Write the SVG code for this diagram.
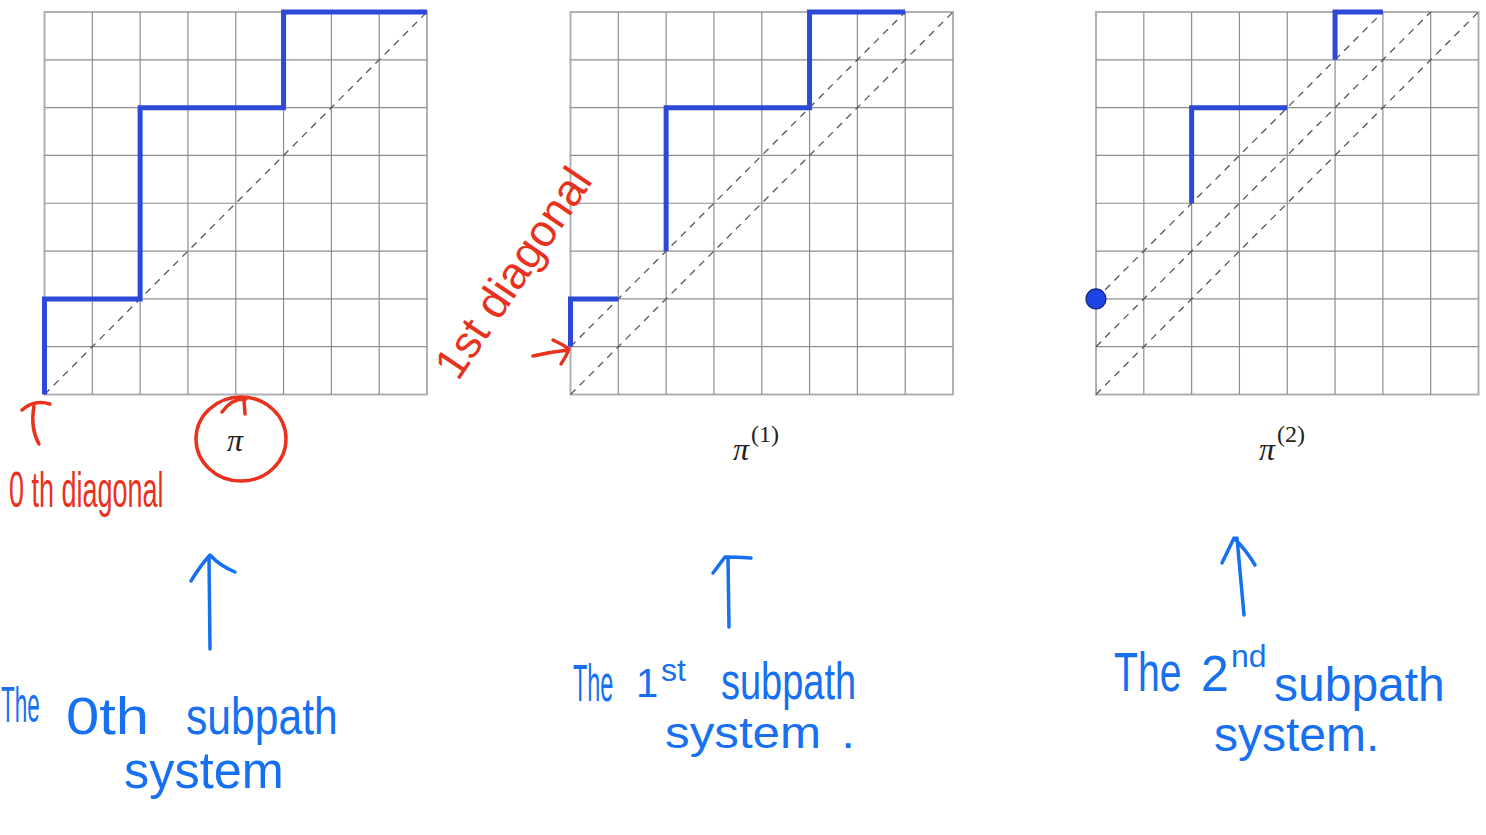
<svg xmlns="http://www.w3.org/2000/svg" xmlns:xlink="http://www.w3.org/1999/xlink" width="1486" height="835" viewBox="0 0 1486 835">
<style>
.gl{stroke:#8e8e8e;stroke-width:1.2;fill:none}
.gb{stroke:#b0b0b0;stroke-width:2;fill:none}
.dg{stroke:#555;stroke-width:1.3;stroke-dasharray:7 6;fill:none}
.bp{stroke:#2c49d8;stroke-width:5;fill:none;stroke-linejoin:miter;stroke-linecap:butt}
.lbl{font-family:"Liberation Serif",serif;font-style:italic;font-size:32px;fill:#222}
.sup{font-family:"Liberation Serif",serif;font-style:normal;font-size:24px;fill:#222}
.hb{font-family:"Liberation Sans",sans-serif;fill:#1670f0}
.hr{font-family:"Liberation Sans",sans-serif;fill:#e8321e}
.pb{stroke:#1670f0;stroke-width:3.5;fill:none;stroke-linecap:round;stroke-linejoin:round}
.pr{stroke:#e8321e;stroke-width:3.5;fill:none;stroke-linecap:round;stroke-linejoin:round}
</style>
<defs>
<g id="grid">
<rect class="gb" x="0" y="0" width="382.5" height="382.5"/>
<path class="gl" d="M47.81,0V382.5M95.63,0V382.5M143.44,0V382.5M191.25,0V382.5M239.06,0V382.5M286.88,0V382.5M334.69,0V382.5M0,47.81H382.5M0,95.63H382.5M0,143.44H382.5M0,191.25H382.5M0,239.06H382.5M0,286.88H382.5M0,334.69H382.5"/>
</g>
</defs>
<rect width="1486" height="835" fill="#fff"/>

<g id="grid0" transform="translate(44.5,12)">
<use xlink:href="#grid"/>
<path class="dg" d="M0,382.5L382.5,0"/>
<path class="bp" d="M0,382.5V286.88H95.63V95.63H239.06V0H382.5"/>
</g>
<g id="grid1" transform="translate(570.5,12)">
<use xlink:href="#grid"/>
<path class="dg" d="M0,382.5L382.5,0M0,334.69L334.69,0"/>
<path class="bp" d="M0,334.69V286.88H47.81M95.63,239.06V95.63H239.06V0H334.69"/>
</g>
<g id="grid2" transform="translate(1096,12)">
<use xlink:href="#grid"/>
<path class="dg" d="M0,382.5L382.5,0M0,334.69L334.69,0M0,286.88L286.88,0"/>
<path class="bp" d="M95.63,191.25V95.63H191.25M239.06,47.81V0H286.88"/>
<circle cx="0" cy="286.88" r="10" fill="#1f44e6" stroke="#12237a" stroke-width="1.2"/>
</g>

<g id="label0"><text class="lbl" x="235" y="451" text-anchor="middle">π</text></g>
<g id="label1"><text class="lbl" x="733" y="460">π<tspan class="sup" dx="2" dy="-18">(1)</tspan></text></g>
<g id="label2"><text class="lbl" x="1259" y="460">π<tspan class="sup" dx="2" dy="-18">(2)</tspan></text></g>

<g id="red-notes">
<text class="hr" transform="translate(9,507) scale(0.54,1)" font-size="50">0 th diagonal</text>
<text class="hr" transform="translate(458,382) rotate(-56)" font-size="45">1st diagonal</text>
<ellipse class="pr" cx="241" cy="439" rx="45" ry="42"/>
</g>

<g id="blue-notes">
<text class="hb" transform="translate(1,722) scale(0.45,1)" font-size="50">The</text>
<text class="hb" transform="translate(66,734) scale(1.15,1)" font-size="52">0th</text>
<text class="hb" transform="translate(186,734) scale(0.82,1)" font-size="52">subpath</text>
<text class="hb" transform="translate(124,788) scale(0.97,1)" font-size="52">system</text>

<text class="hb" transform="translate(573,701) scale(0.45,1)" font-size="52">The</text>
<text class="hb" x="636" y="697" font-size="40">1</text>
<text class="hb" x="661" y="681" font-size="32">st</text>
<text class="hb" transform="translate(721,699) scale(0.73,1)" font-size="52">subpath</text>
<text class="hb" transform="translate(665,748) scale(1.12,1)" font-size="44">system<tspan dx="18">.</tspan></text>

<text class="hb" transform="translate(1114,691) scale(0.7,1)" font-size="56">The</text>
<text class="hb" x="1201" y="691" font-size="50">2</text>
<text class="hb" x="1231" y="667" font-size="32">nd</text>
<text class="hb" x="1274" y="701" font-size="48">subpath</text>
<text class="hb" x="1214" y="751" font-size="48">system.</text>
</g>

<g id="connectors">
<path class="pr" d="M22,410Q34,399 50,404M34,406Q30,428 39,444"/>
<path class="pr" d="M222,412Q232,398 246,399M244,400L245,414"/>
<path class="pr" d="M533,356Q550,352 568,350M553,340Q562,344 569,349Q566,357 561,364"/>
<path class="pb" d="M210,649L209,556M191,581Q200,566 210,555Q220,566 235,572"/>
<path class="pb" d="M729,627L728,557M713,573L725,557Q738,557 751,558"/>
<path class="pb" d="M1244,615L1237,538M1222,563L1234,538Q1246,550 1255,565"/>
</g>
</svg>
